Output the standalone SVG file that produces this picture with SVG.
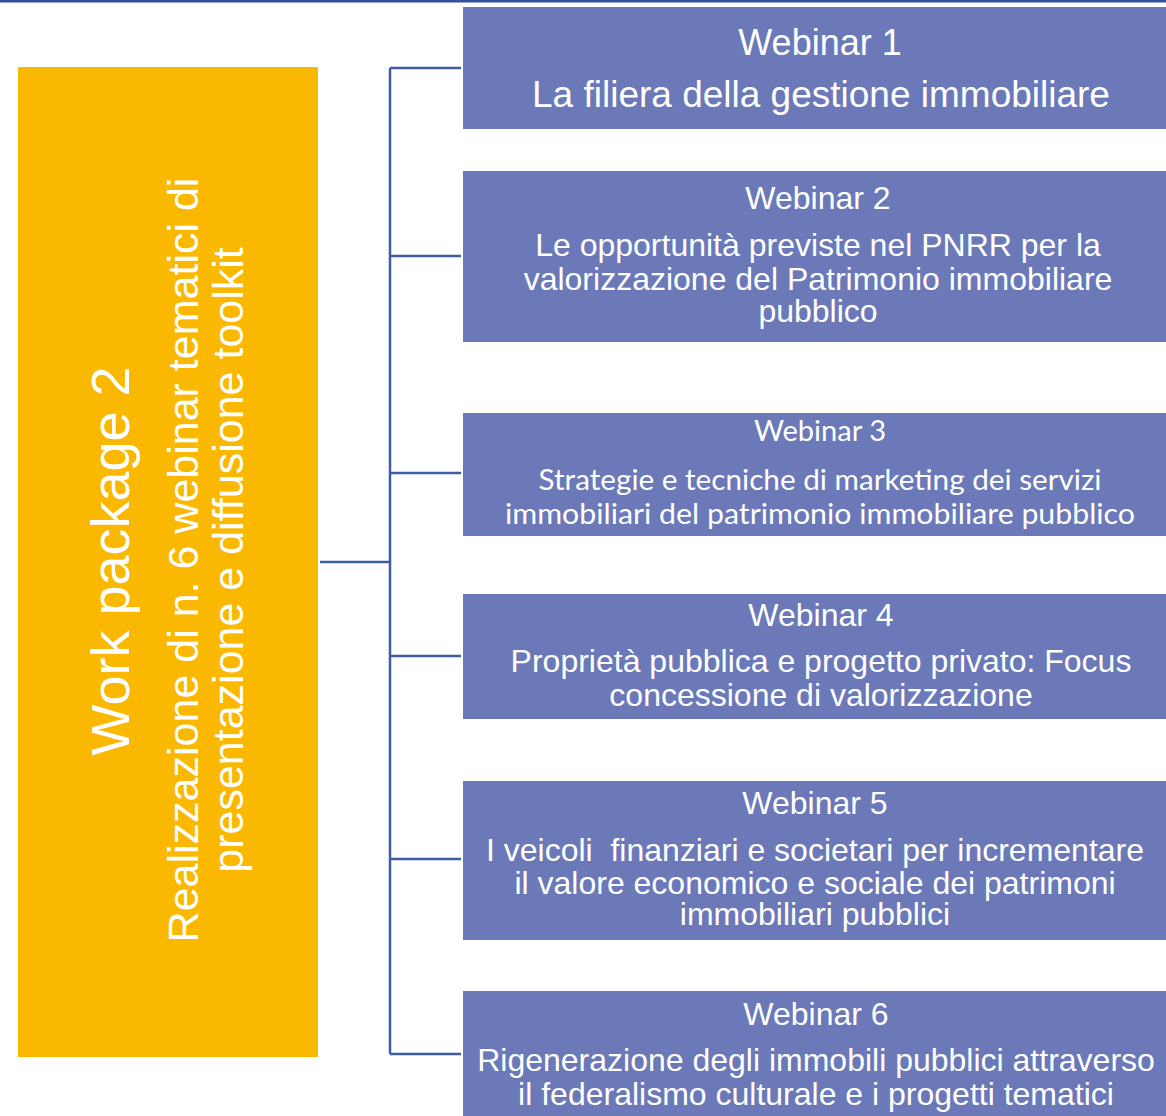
<svg xmlns="http://www.w3.org/2000/svg" width="1166" height="1116" viewBox="0 0 1166 1116">
<style>
.box{fill:#6b79b8}
.wp{fill:#fab900}
.t{font-family:"Liberation Sans",Arial,sans-serif;fill:#fff;text-anchor:middle}
.c{font-family:Lato,"Open Sans",sans-serif;fill:#fff;text-anchor:middle}
.conn{fill:none;stroke:#3c5da6;stroke-width:2.5}
</style>
<rect x="0" y="0" width="1166" height="2.5" fill="#2f4f9f"/>
<g id="wp2">
<rect class="wp" x="18" y="67" width="300" height="990"/>
<text class="t" font-size="54" transform="translate(129,561) rotate(-90)">Work package 2</text>
<text class="t" font-size="43" transform="translate(198,560) rotate(-90)">Realizzazione di n. 6 webinar tematici di</text>
<text class="t" font-size="43" transform="translate(243,560) rotate(-90)">presentazione e diffusione toolkit</text>
</g>
<g id="connectors">
<path class="conn" d="M320 562 H390 M390 68 V1054 M390 68 H461 M390 256 H461 M390 473 H461 M390 656 H461 M390 859 H461 M390 1054 H461"/>
</g>
<g id="webinar1">
<rect class="box" x="463" y="7" width="703" height="122"/>
<text class="t" font-size="36" x="820" y="55">Webinar 1</text>
<text class="t" font-size="37" x="821" y="107">La filiera della gestione immobiliare</text>
</g>
<g id="webinar2">
<rect class="box" x="463" y="171" width="703" height="171"/>
<text class="t" font-size="32" x="818" y="209">Webinar 2</text>
<text class="t" font-size="32" x="818" y="256">Le opportunità previste nel PNRR per la</text>
<text class="t" font-size="32" x="818" y="290">valorizzazione del Patrimonio immobiliare</text>
<text class="t" font-size="32" x="818" y="322">pubblico</text>
</g>
<g id="webinar3">
<rect class="box" x="463" y="413" width="703" height="123"/>
<text class="c" font-size="29" x="820" y="441" textLength="132" lengthAdjust="spacingAndGlyphs">Webinar 3</text>
<text class="c" font-size="29" x="820" y="490" textLength="563" lengthAdjust="spacingAndGlyphs">Strategie e tecniche di marketing dei servizi</text>
<text class="c" font-size="29" x="820" y="524" textLength="630" lengthAdjust="spacingAndGlyphs">immobiliari del patrimonio immobiliare pubblico</text>
</g>
<g id="webinar4">
<rect class="box" x="463" y="594" width="703" height="125"/>
<text class="t" font-size="32" x="821" y="626">Webinar 4</text>
<text class="t" font-size="32" x="821" y="672">Proprietà pubblica e progetto privato: Focus</text>
<text class="t" font-size="32" x="821" y="706">concessione di valorizzazione</text>
</g>
<g id="webinar5">
<rect class="box" x="463" y="781" width="703" height="159"/>
<text class="t" font-size="32" x="815" y="814">Webinar 5</text>
<text class="t" font-size="32" x="815" y="861" style="white-space:pre">I veicoli  finanziari e societari per incrementare</text>
<text class="t" font-size="32" x="815" y="894">il valore economico e sociale dei patrimoni</text>
<text class="t" font-size="32" x="815" y="925">immobiliari pubblici</text>
</g>
<g id="webinar6">
<rect class="box" x="463" y="991" width="703" height="130"/>
<text class="t" font-size="32" x="816" y="1025">Webinar 6</text>
<text class="t" font-size="32" x="816" y="1071">Rigenerazione degli immobili pubblici attraverso</text>
<text class="t" font-size="32" x="816" y="1105">il federalismo culturale e i progetti tematici</text>
</g>
</svg>
